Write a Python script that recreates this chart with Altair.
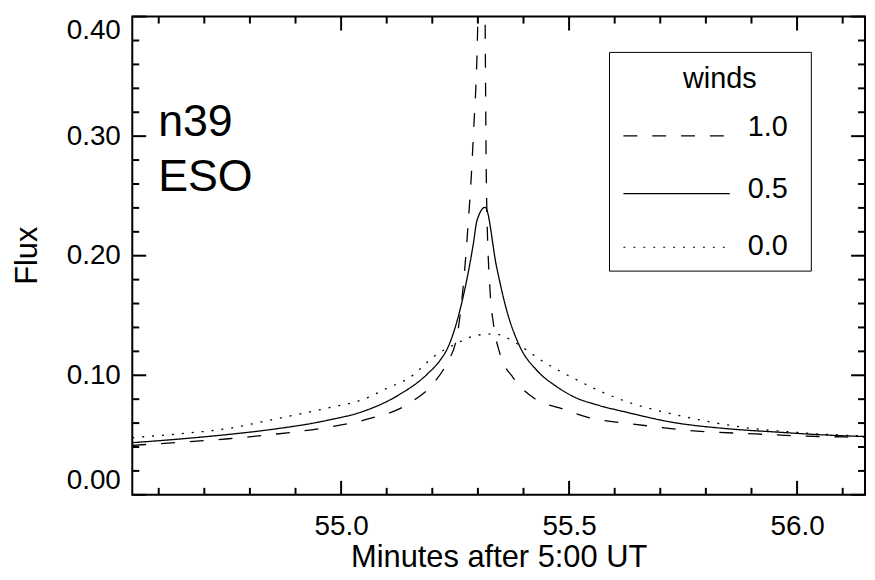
import altair as alt
import pandas as pd

# ---- data ----
dash_x = [54.542, 54.65, 54.753, 54.85, 54.971, 55.05, 55.151, 55.203, 55.232, 55.254, 55.276, 55.29,
          55.300, 55.306, 55.311, 55.315, 55.319, 55.327, 55.334, 55.348, 55.378, 55.428, 55.479, 55.545,
          55.617, 55.69, 55.755, 55.82, 55.886, 55.951, 56.017, 56.104, 56.15]
dash_y = [0.0414, 0.0440, 0.0469, 0.0505, 0.0565, 0.0625, 0.0769, 0.0935, 0.1102, 0.1323, 0.2128, 0.30,
          0.40, 0.55, 0.70, 0.45, 0.25, 0.1684, 0.1434, 0.1185, 0.0977, 0.0796, 0.0727, 0.0644,
          0.0602, 0.0569, 0.0541, 0.0524, 0.0513, 0.0502, 0.0491, 0.0484, 0.0480]

solid_x = [54.542, 54.65, 54.753, 54.85, 54.971, 55.05, 55.124, 55.189, 55.218, 55.232, 55.261, 55.29,
           55.298, 55.316, 55.341, 55.363, 55.392, 55.428, 55.472, 55.516, 55.559, 55.631, 55.726, 55.85,
           55.959, 56.039, 56.159]
solid_y = [0.0436, 0.0468, 0.0505, 0.0548, 0.0624, 0.0700, 0.0830, 0.1010, 0.1130, 0.1215, 0.1550, 0.2100,
           0.2294, 0.2405, 0.1906, 0.1545, 0.1240, 0.1046, 0.0907, 0.0810, 0.0755, 0.0686, 0.0607, 0.0552,
           0.0524, 0.0505, 0.0486]

dot_x = [54.542, 54.65, 54.753, 54.85, 54.971, 55.05, 55.1, 55.15, 55.206, 55.25, 55.3, 55.337, 55.36,
         55.392, 55.443, 55.516, 55.574, 55.639, 55.726, 55.813, 55.908, 55.995, 56.032, 56.159]
dot_y = [0.0478, 0.0512, 0.0555, 0.0630, 0.0727, 0.0800, 0.0890, 0.0980, 0.1163, 0.1260, 0.1336, 0.1346, 0.1320,
         0.1248, 0.1115, 0.0963, 0.0857, 0.0763, 0.0677, 0.0607, 0.0552, 0.0524, 0.0513, 0.0491]

series_names = ["1.0", "0.5", "0.0"]
legend_title = "winds"
annot_lines = ["n39", "ESO"]
x_title = "Minutes after 5:00 UT"
y_title = "Flux"

x_domain = [54.542, 56.149]
y_domain = [0.0, 0.40]
x_major = [55.0, 55.5, 56.0]
x_minor = [54.6, 54.7, 54.8, 54.9, 55.1, 55.2, 55.3, 55.4, 55.6, 55.7, 55.8, 55.9, 56.1]
y_major = [0.0, 0.1, 0.2, 0.3, 0.4]
y_minor = [0.02, 0.04, 0.06, 0.08, 0.12, 0.14, 0.16, 0.18, 0.22, 0.24, 0.26, 0.28, 0.32, 0.34, 0.36, 0.38]

rows = []
for name, xs_, ys_ in [("1.0", dash_x, dash_y), ("0.5", solid_x, solid_y), ("0.0", dot_x, dot_y)]:
    for a, b in zip(xs_, ys_):
        rows.append({"x": a, "y": b, "s": name})
df = pd.DataFrame(rows)

FONT = "Liberation Sans"
W, H = 737, 481

xs = alt.Scale(domain=x_domain, nice=False, zero=False)
ys = alt.Scale(domain=y_domain, nice=False, zero=False)

DASH = [14, 15]
DOT = [2, 8]

lines = alt.Chart(df).mark_line(clip=True, color="black", strokeWidth=1.3, interpolate="monotone").encode(
    x=alt.X("x:Q", scale=xs, axis=alt.Axis(
        orient="bottom", values=x_major, format=".1f", ticks=False, domain=False,
        labelFontSize=28, labelPadding=18, labelFlush=False, labelFont=FONT, labelColor="black",
        title=x_title, titleFontSize=31, titleFontWeight="normal", titleBaseline="alphabetic",
        titleFont=FONT, titleColor="black", titleY=72, grid=False)),
    y=alt.Y("y:Q", scale=ys, axis=alt.Axis(
        orient="left", values=y_major, format=".2f", ticks=False, domain=False,
        labelFontSize=28, labelPadding=12, labelFlush=True, labelFont=FONT, labelColor="black",
        title=y_title, titleFontSize=31, titleFontWeight="normal", titleBaseline="alphabetic",
        titleFont=FONT, titleColor="black",
        titleAngle=270, titleX=-96, titleY=240, titleAlign="center", grid=False)),
    strokeDash=alt.StrokeDash("s:N", scale=alt.Scale(domain=series_names, range=[DASH, [1, 0], DOT]),
                              legend=None),
)


def xticks(vals, length):
    d = pd.DataFrame({"v": vals})
    base = alt.Chart(d).mark_rule(color="black", strokeWidth=2)
    bottom = base.encode(x=alt.X("v:Q", scale=xs, axis=None), y=alt.value(H), y2=alt.value(H - length))
    top = base.encode(x=alt.X("v:Q", scale=xs, axis=None), y=alt.value(0), y2=alt.value(length))
    return [bottom, top]


def yticks(vals, length):
    d = pd.DataFrame({"v": vals})
    base = alt.Chart(d).mark_rule(color="black", strokeWidth=2)
    left = base.encode(y=alt.Y("v:Q", scale=ys, axis=None), x=alt.value(0), x2=alt.value(length))
    right = base.encode(y=alt.Y("v:Q", scale=ys, axis=None), x=alt.value(W), x2=alt.value(W - length))
    return [left, right]


ticks = xticks(x_major, 14) + xticks(x_minor, 7) + yticks(y_major, 14) + yticks(y_minor, 7)

one = pd.DataFrame({"a": [0]})


def txt(s, x, y, size, align="left"):
    return alt.Chart(one).mark_text(align=align, baseline="alphabetic", fontSize=size, font=FONT,
                                    color="black").encode(x=alt.value(x), y=alt.value(y), text=alt.value(s))


annot = [txt(annot_lines[0], 26, 120, 45), txt(annot_lines[1], 26, 175, 45)]

box = alt.Chart(one).mark_rect(fillOpacity=0, stroke="black", strokeWidth=1).encode(
    x=alt.value(480), x2=alt.value(683), y=alt.value(36), y2=alt.value(256))

leg = [box, txt(legend_title, 591, 72, 29, align="center")]
for i, (dash, ly, ty) in enumerate([(DASH, 120, 120), ([1, 0], 178, 182), (DOT, 232, 240)]):
    leg.append(alt.Chart(one).mark_rule(color="black", strokeWidth=1.2, strokeDash=dash).encode(
        x=alt.value(494), x2=alt.value(601), y=alt.value(ly)))
    leg.append(txt(series_names[i], 619, ty, 29))

chart = alt.layer(lines, *ticks, *annot, *leg).resolve_axis(
    x="independent", y="independent"
).properties(
    width=W, height=H,
    background="white",
    autosize=alt.AutoSizeParams(type="none"),
    padding={"left": 125, "top": 7, "right": 2, "bottom": 80},
).configure_view(stroke="black", strokeWidth=2)

chart.save("out.html", embed_options={"renderer": "svg", "actions": False})
